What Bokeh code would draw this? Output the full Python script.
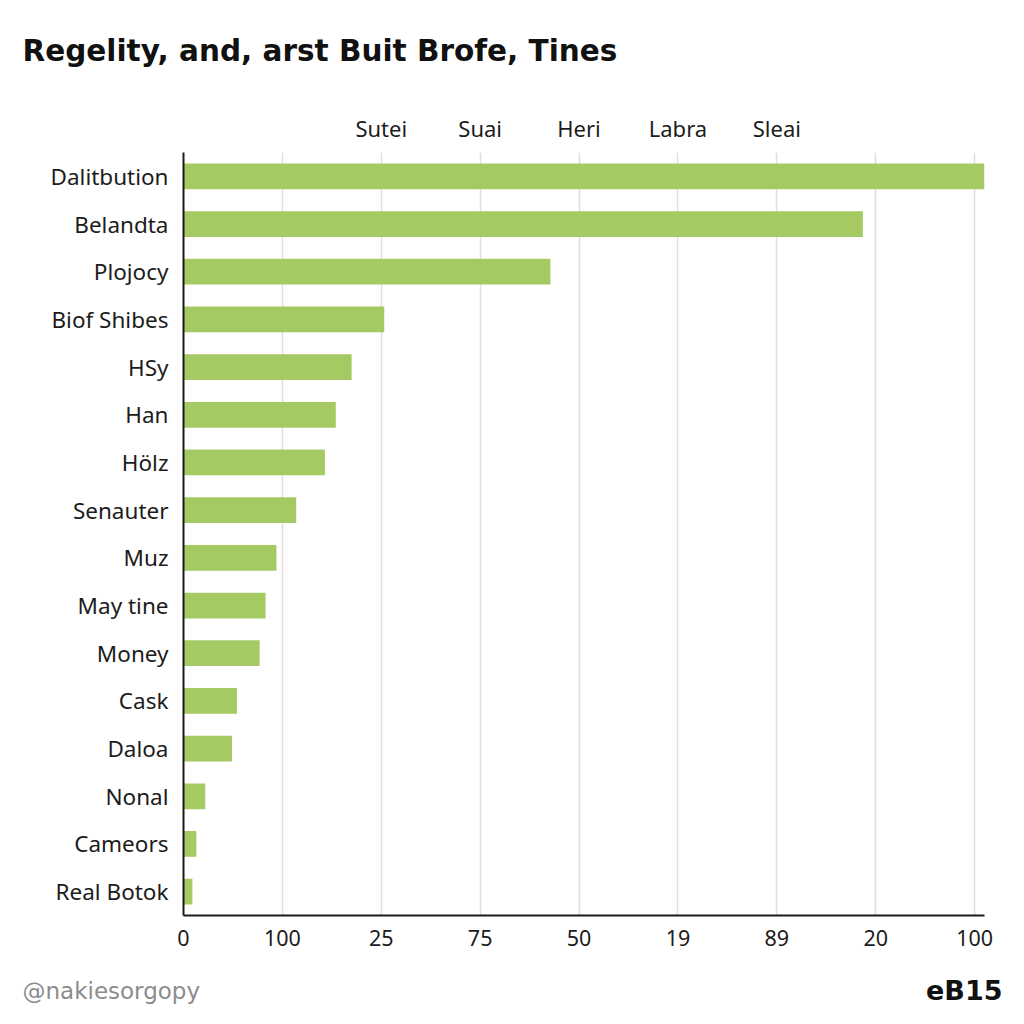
from bokeh.plotting import figure
from bokeh.layouts import column, row
from bokeh.models import FactorRange, Range1d, FixedTicker, LinearAxis, Label
from bokeh.embed import file_html
from bokeh.resources import INLINE

categories = ["Dalitbution", "Belandta", "Plojocy", "Biof Shibes", "HSy", "Han", "Hölz",
              "Senauter", "Muz", "May tine", "Money", "Cask", "Daloa", "Nonal", "Cameors", "Real Botok"]
values = [8.10, 6.87, 3.71, 2.03, 1.70, 1.54, 1.43, 1.14, 0.94, 0.83, 0.77, 0.54, 0.49, 0.22, 0.13, 0.09]
bottom_ticks = [0, 1, 2, 3, 4, 5, 6, 7, 8]
bottom_labels = ["0", "100", "25", "75", "50", "19", "89", "20", "100"]
top_ticks = [2, 3, 4, 5, 6]
top_labels = ["Sutei", "Suai", "Heri", "Labra", "Sleai"]

title_text = "Regelity, and, arst Buit Brofe, Tines"
handle_text = "@nakiesorgopy"
brand_text = "eB15"

FONT = "Noto Sans"
INK = "#1c1c1c"
W = 1024
HEAD_H = 95
FOOT_H = 55
MAIN_H = 1024 - HEAD_H - FOOT_H


def blank(h):
    f = figure(width=W, height=h, output_backend="svg", toolbar_location=None,
               x_range=Range1d(0, W), y_range=Range1d(h, 0),
               x_axis_type=None, y_axis_type=None, min_border=0,
               background_fill_color="white", border_fill_color="white")
    f.outline_line_color = None
    f.xgrid.visible = False
    f.ygrid.visible = False
    return f


head = blank(HEAD_H)
head.add_layout(Label(x=22, y=50, text=title_text, text_font="DejaVu Sans", text_font_style="bold",
                      text_font_size="29.5px", text_color="#111111",
                      text_baseline="middle", text_align="left"))

p = figure(width=W, height=MAIN_H, output_backend="svg", toolbar_location=None,
           y_range=FactorRange(factors=list(reversed(categories)), range_padding=0),
           x_range=Range1d(0, 8.1),
           min_border_left=183, min_border_right=40, min_border_top=152 - HEAD_H,
           min_border_bottom=(1024 - FOOT_H) - 915,
           background_fill_color="white", border_fill_color="white")
p.outline_line_color = None

p.hbar(y=categories, right=values, left=0, height=0.54, color="#a5c963", line_color=None)

# bottom axis
xa = p.xaxis[0]
xa.ticker = FixedTicker(ticks=bottom_ticks)
xa.major_label_overrides = {t: l for t, l in zip(bottom_ticks, bottom_labels)}
xa.major_tick_line_color = None
xa.minor_tick_line_color = None
xa.axis_line_color = INK
xa.axis_line_width = 2
xa.major_label_text_font = FONT
xa.major_label_text_font_size = "21.5px"
xa.major_label_text_color = INK
xa.major_label_standoff = 8

# left axis
ya = p.yaxis[0]
ya.major_tick_line_color = None
ya.minor_tick_line_color = None
ya.axis_line_color = INK
ya.axis_line_width = 2
ya.major_label_text_font = FONT
ya.major_label_text_font_size = "22.5px"
ya.major_label_text_color = INK
ya.major_label_standoff = 9

# top axis
ta = LinearAxis(ticker=FixedTicker(ticks=top_ticks),
                major_label_overrides={t: l for t, l in zip(top_ticks, top_labels)})
ta.axis_line_color = None
ta.major_tick_line_color = None
ta.minor_tick_line_color = None
ta.major_label_text_font = FONT
ta.major_label_text_font_size = "22px"
ta.major_label_text_color = INK
ta.major_label_standoff = 4
p.add_layout(ta, "above")

p.xgrid.ticker = FixedTicker(ticks=bottom_ticks)
p.xgrid.grid_line_color = "#dedede"
p.xgrid.grid_line_width = 1.5
p.ygrid.grid_line_color = None

foot = blank(FOOT_H)
foot.add_layout(Label(x=22, y=21, text=handle_text, text_font="DejaVu Sans", text_font_size="23px",
                      text_color="#8c8c8c", text_baseline="middle", text_align="left"))
foot.add_layout(Label(x=1002, y=21, text=brand_text, text_font="DejaVu Sans", text_font_style="bold",
                      text_font_size="27px", text_color="#111111",
                      text_baseline="middle", text_align="right"))

layout = column(row(head), p, row(foot), spacing=0)
open("out.html", "w").write(file_html(layout, INLINE))
